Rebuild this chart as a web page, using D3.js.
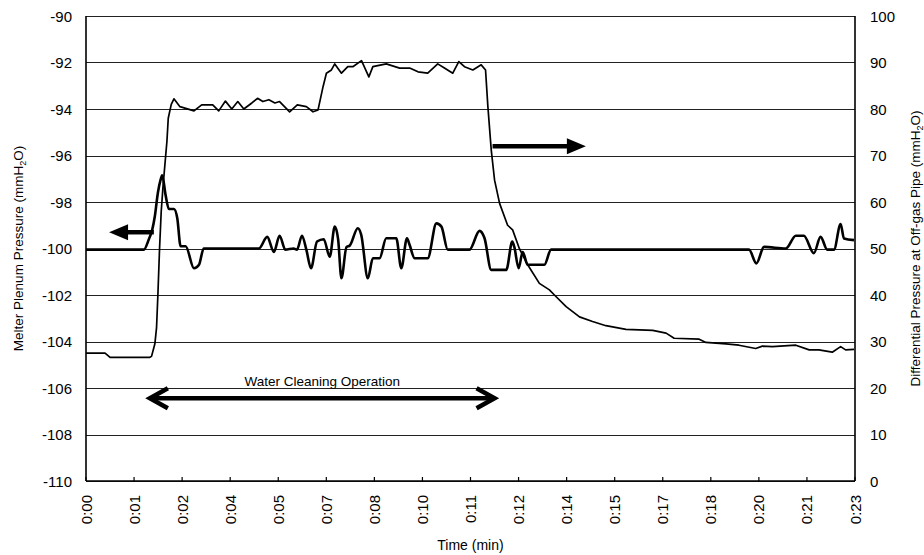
<!DOCTYPE html>
<html>
<head>
<meta charset="utf-8">
<script src="https://cdn.jsdelivr.net/npm/d3@7"></script>
<style>
body { margin:0; background:#fff; }
svg text { font-family: Arial, "Liberation Sans", sans-serif; fill:#000; }
.grid line { stroke:#222; stroke-width:1; }
</style>
</head>
<body>
<svg width="924" height="555"></svg>
<script>
//x tick labels (Excel style truncated h:mm)
var timeLabels = ["0:00","0:01","0:02","0:04","0:05","0:07","0:08","0:10","0:11",
                  "0:12","0:14","0:15","0:17","0:18","0:20","0:21","0:23"];
var leftTicks = [-90,-92,-94,-96,-98,-100,-102,-104,-106,-108,-110];
var rightTicks = [100,90,80,70,60,50,40,30,20,10,0];

//differential pressure at off-gas pipe (right axis), time in minutes
var diffTimes = [0,0.57,0.72,1.91,1.96,2.06,2.11,2.15,2.20,2.25,2.30,2.38,2.42,2.46,2.55,2.63,
    2.81,3.23,3.46,3.79,3.97,4.17,4.36,4.54,4.72,4.96,5.13,5.29,5.47,5.65,5.79,6.09,6.32,6.59,6.79,6.94,
    7.09,7.19,7.34,7.44,7.64,7.83,7.98,8.24,8.46,8.58,8.98,9.38,9.68,9.93,10.22,10.52,10.72,10.97,11.15,11.32,11.57,11.82,11.95,
    12.02,12.12,12.22,12.37,12.61,12.76,12.96,13.21,13.56,13.86,14.01,14.36,14.76,15.15,15.55,16.15,16.95,17.35,17.59,
    18.34,18.54,19.14,19.53,20.03,20.23,20.53,21.23,21.63,21.92,22.32,22.57,22.72,22.97];
var diffValues = [27.5,27.5,26.6,26.6,26.8,29.5,33,40,50,58,63,69.7,73,78,81,82.2,
    80.5,79.6,80.9,80.9,79.6,81.7,80,81.6,80,81.3,82.3,81.6,82,81.3,81.6,79.4,80.9,80.5,79.4,79.8,
    84.8,87.7,88.4,89.7,87.7,89.1,89.1,90.4,86.9,89.1,89.7,88.8,88.8,88,87.7,89.7,88.8,87.7,90.2,89.1,88.4,89.5,88.4,
    80.5,71.2,64.7,59.7,55,54,50,46.5,42.5,41.1,40,37.5,35.3,34.3,33.4,32.6,32.4,31.8,30.7,
    30.5,29.8,29.5,29.2,28.5,29,28.9,29.2,28.2,28.2,27.7,28.9,28.2,28.3];

//melter plenum pressure (left axis)
var plenumTimes = [0,1.73,1.88,1.98,2.06,2.15,2.23,2.28,2.38,2.48,2.63,2.73,2.83,2.98,3.23,3.38,3.52,
    5.17,5.42,5.62,5.79,5.96,6.21,6.31,6.46,6.59,6.73,6.91,7.11,7.29,7.44,7.54,7.64,7.79,7.89,8.13,8.23,8.43,8.58,8.78,
    8.98,9.28,9.43,9.60,9.68,9.83,10.22,10.48,10.63,10.82,11.47,11.77,11.92,12.12,12.57,12.75,12.81,12.94,13.06,13.21,13.71,13.91,
    19.83,20.05,20.28,20.93,21.23,21.47,21.77,21.97,22.17,22.37,22.57,22.67,22.97];
var plenumValues = [-100.05,-100.05,-99.6,-99.2,-98.6,-97.6,-97.05,-96.85,-97.7,-98.3,-98.3,-98.7,-99.9,-99.9,-100.85,-100.7,-100,
    -100,-99.5,-100.15,-99.45,-100.05,-100,-100.05,-99.45,-100.05,-100.85,-99.7,-99.6,-100.35,-99.06,-99.6,-101.28,-99.94,-99.87,-99.13,-99.4,-101.28,-100.42,-100.42,
    -99.56,-99.56,-100.85,-99.56,-99.85,-100.42,-100.42,-98.92,-99.06,-100.05,-100.05,-99.24,-99.56,-100.92,-100.92,-99.7,-99.93,-100.85,-100.15,-100.7,-100.7,-100.05,
    -100.05,-100.64,-99.93,-100,-99.45,-99.45,-100.2,-99.5,-100.05,-100.05,-98.95,-99.57,-99.64];

var screen = {width:924,height:555}
var margins = {left:86,right:69,top:16,bottom:74}
var graphDim = {
    width:screen.width-margins.left-margins.right,
    height:screen.height-margins.top-margins.bottom
}

var svg = d3.select("svg")

var xScale = d3.scaleLinear().domain([0,23]).range([0,graphDim.width])
var yLeft = d3.scaleLinear().domain([-110,-90]).range([graphDim.height,0])
var yRight = d3.scaleLinear().domain([0,100]).range([graphDim.height,0])
var tickTimes = timeLabels.map(function(d,i){return i*23/(timeLabels.length-1);})

var plot = svg.append("g")
    .attr("transform","translate("+margins.left+","+margins.top+")")

//horizontal grid
plot.append("g").classed("grid",true)
    .selectAll("line")
    .data(leftTicks)
    .enter()
    .append("line")
    .attr("x1",0).attr("x2",graphDim.width)
    .attr("y1",function(d){return Math.round(yLeft(d))+0.5;})
    .attr("y2",function(d){return Math.round(yLeft(d))+0.5;})

//frame lines (left, right, bottom)
var frame = plot.append("g").attr("stroke","#000").attr("stroke-width",1.6)
frame.append("line").attr("x1",0).attr("x2",0).attr("y1",0).attr("y2",graphDim.height)
frame.append("line").attr("x1",graphDim.width).attr("x2",graphDim.width).attr("y1",0).attr("y2",graphDim.height)
frame.append("line").attr("x1",0).attr("x2",graphDim.width).attr("y1",graphDim.height).attr("y2",graphDim.height)

//x ticks inside
plot.append("g")
    .selectAll("line")
    .data(tickTimes)
    .enter()
    .append("line")
    .attr("x1",function(d){return xScale(d);})
    .attr("x2",function(d){return xScale(d);})
    .attr("y1",graphDim.height).attr("y2",graphDim.height-4)
    .attr("stroke","#000").attr("stroke-width",1.2)

//left tick labels
plot.append("g")
    .selectAll("text")
    .data(leftTicks)
    .enter()
    .append("text")
    .text(function(d){return d;})
    .attr("x",-14)
    .attr("y",function(d){return yLeft(d)+5.5;})
    .attr("text-anchor","end")
    .attr("font-size",15)

//right tick labels
plot.append("g")
    .selectAll("text")
    .data(rightTicks)
    .enter()
    .append("text")
    .text(function(d){return d;})
    .attr("x",graphDim.width+15)
    .attr("y",function(d){return yRight(d)+5.5;})
    .attr("font-size",15)

//x tick labels, rotated
plot.append("g")
    .selectAll("text")
    .data(timeLabels)
    .enter()
    .append("text")
    .text(function(d){return d;})
    .attr("text-anchor","end")
    .attr("font-size",15)
    .attr("transform",function(d,i){
        return "translate("+(xScale(tickTimes[i])+5.5)+","+(graphDim.height+14)+") rotate(-90)";
    })

//the two series
var diffLine = d3.line()
    .x(function(d){return xScale(d[0]);})
    .y(function(d){return yRight(d[1]);})
plot.append("path")
    .datum(d3.zip(diffTimes,diffValues))
    .attr("d",diffLine)
    .attr("fill","none").attr("stroke","#000").attr("stroke-width",1.7)
    .attr("stroke-linejoin","round")

var plenumLine = d3.line()
    .x(function(d){return xScale(d[0]);})
    .y(function(d){return yLeft(d[1]);})
    .curve(d3.curveMonotoneX)
plot.append("path")
    .datum(d3.zip(plenumTimes,plenumValues))
    .attr("d",plenumLine)
    .attr("fill","none").attr("stroke","#000").attr("stroke-width",2.6)
    .attr("stroke-linejoin","round")

//solid arrow, tip at (x1,y)
var solidArrow = function(x0,x1,y)
{
    var dir = x1>x0 ? 1 : -1;
    plot.append("line")
        .attr("x1",x0).attr("x2",x1-dir*14).attr("y1",y).attr("y2",y)
        .attr("stroke","#000").attr("stroke-width",4.5)
    plot.append("path")
        .attr("d","M"+x1+","+y+"L"+(x1-dir*19)+","+(y-8)+"L"+(x1-dir*19)+","+(y+8)+"Z")
        .attr("fill","#000")
}
solidArrow(xScale(2.03),xScale(0.69),yLeft(-99.3))
solidArrow(xScale(12.16),xScale(14.95),yRight(72.0))

//double headed arrow for the cleaning operation
var ya = yLeft(-106.44)
var xa = xScale(1.91), xb = xScale(12.22)
plot.append("line")
    .attr("x1",xa+3).attr("x2",xb-3).attr("y1",ya).attr("y2",ya)
    .attr("stroke","#000").attr("stroke-width",4.5)
plot.append("path")
    .attr("d","M"+(xa+18)+","+(ya-10)+"L"+xa+","+ya+"L"+(xa+18)+","+(ya+10)
        +"M"+(xb-18)+","+(ya-10)+"L"+xb+","+ya+"L"+(xb-18)+","+(ya+10))
    .attr("fill","none").attr("stroke","#000").attr("stroke-width",4.5)
    .attr("stroke-linejoin","miter")
plot.append("text")
    .text("Water Cleaning Operation")
    .attr("x",(xa+xb)/2)
    .attr("y",ya-12)
    .attr("text-anchor","middle")
    .attr("font-size",13.5)

//axis titles
svg.append("text")
    .text("Time (min)")
    .attr("x",margins.left+graphDim.width/2)
    .attr("y",550)
    .attr("text-anchor","middle")
    .attr("font-size",14)

var leftTitle = svg.append("text")
    .attr("text-anchor","middle")
    .attr("font-size",13.5)
    .attr("transform","translate(23,"+(margins.top+graphDim.height/2)+") rotate(-90)")
leftTitle.append("tspan").text("Melter Plenum Pressure (mmH")
leftTitle.append("tspan").text("2").attr("font-size",9).attr("dy",3)
leftTitle.append("tspan").text("O)").attr("dy",-3)

var rightTitle = svg.append("text")
    .attr("text-anchor","middle")
    .attr("font-size",13.5)
    .attr("transform","translate(920,"+(margins.top+graphDim.height/2)+") rotate(-90)")
rightTitle.append("tspan").text("Differential Pressure at Off-gas Pipe (mmH")
rightTitle.append("tspan").text("2").attr("font-size",9).attr("dy",3)
rightTitle.append("tspan").text("O)").attr("dy",-3)
</script>
</body>
</html>
